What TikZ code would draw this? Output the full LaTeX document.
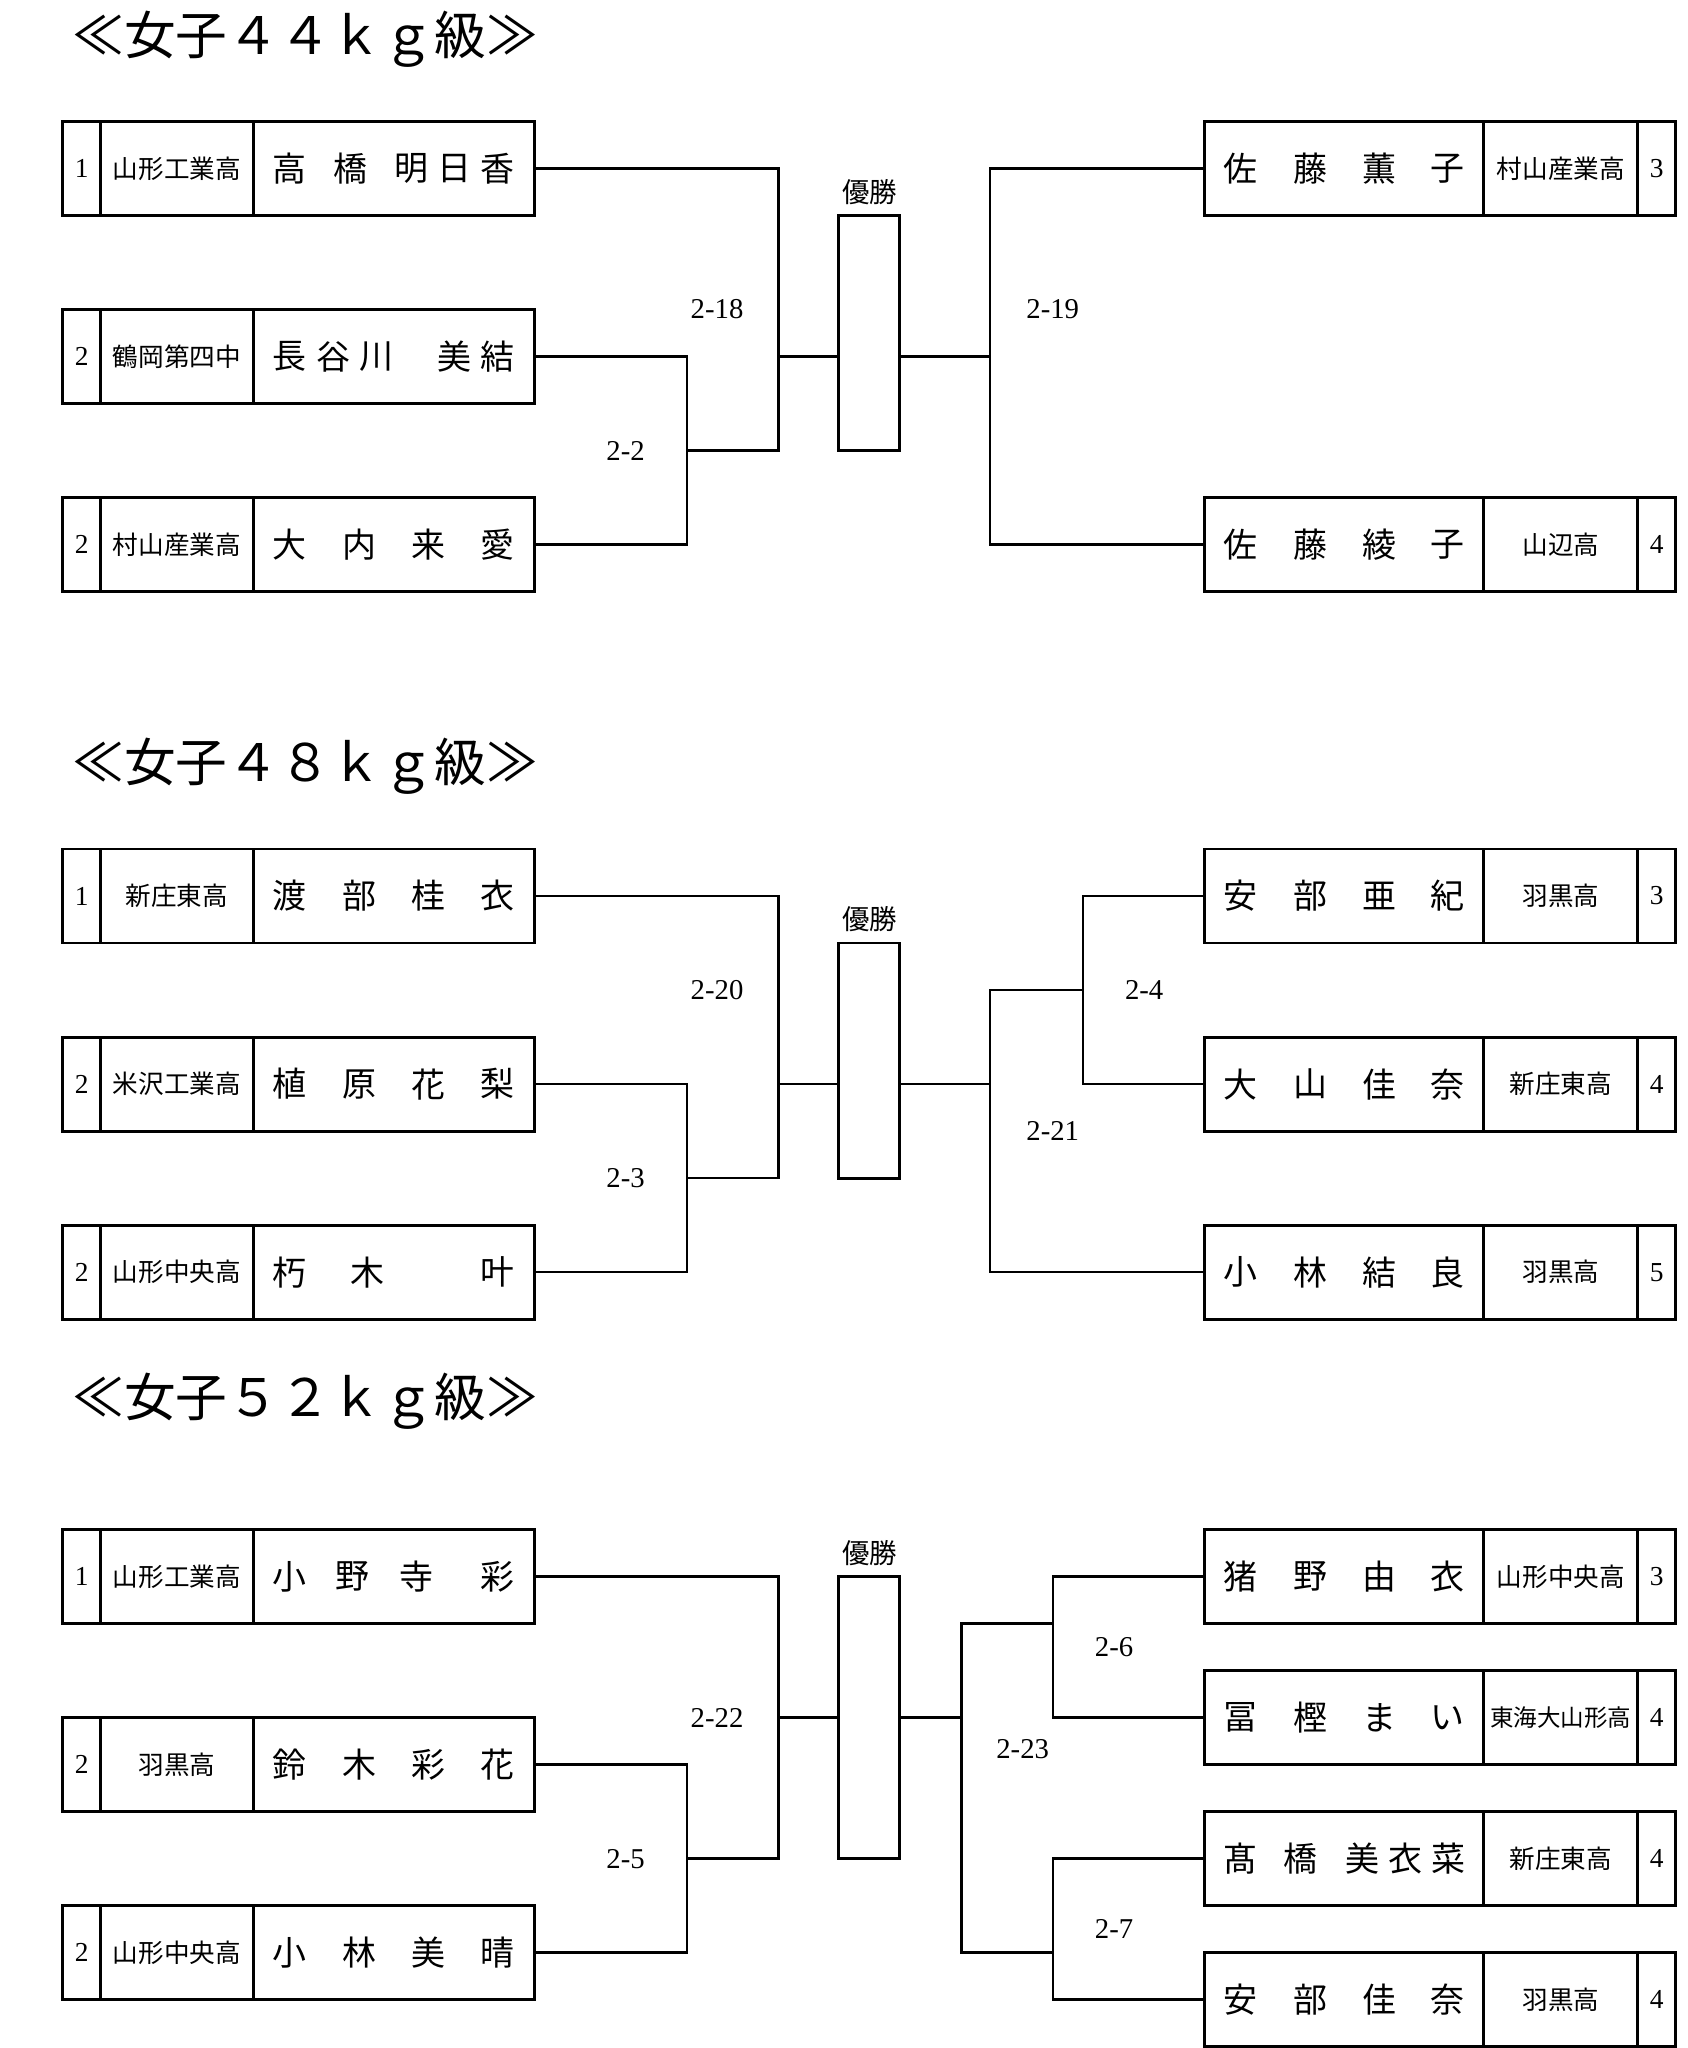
\documentclass[tikz,border=0pt]{standalone}
\usepackage{fontspec}
\setmainfont{Liberation Serif}
\newfontfamily\jp{Noto Sans CJK JP}
\tikzset{
  cell/.style={draw, line width=1.1pt, rectangle, inner sep=0pt, minimum height=36pt},
  numtxt/.style={font=\fontsize{10.5pt}{10.5pt}\selectfont},
  schtxt/.style={font=\jp\fontsize{9.8pt}{10pt}\selectfont},
  namech/.style={inner sep=0pt, font=\jp\fontsize{13pt}{13pt}\selectfont},
  ttl/.style={inner sep=0pt, anchor=west, font=\jp\fontsize{19.8pt}{20pt}\selectfont},
  mlabel/.style={inner sep=0pt, font=\fontsize{11pt}{11pt}\selectfont},
  clabel/.style={inner sep=0pt, font=\jp\fontsize{10.5pt}{11pt}\selectfont},
  champ/.style={draw, line width=1.1pt, rectangle, inner sep=0pt, minimum width=23.5pt},
  conn/.style={draw, line width=0.95pt},
}
% left entry: id, y, number, school, chars
\newcommand\plL[5]{%
  \node[cell, numtxt, minimum width=14.5pt] (#1num) at (62.5,#2) {#3};
  \node[cell, schtxt, minimum width=58.5pt] (#1sch) at (135.5,#2) {#4};
  \node[cell, minimum width=107.5pt] (#1nm) at (301.5,#2) {};
  \foreach \cx/\zch [count=\k] in {#5} \node[namech] (#1c\k) at (\cx,#2) {\zch};
}
% right entry
\newcommand\plR[5]{%
  \node[cell, minimum width=107pt] (#1nm) at (1029,#2) {};
  \node[cell, schtxt, minimum width=59pt] (#1sch) at (1195,#2) {#4};
  \node[cell, numtxt, minimum width=14.5pt] (#1num) at (1268.5,#2) {#3};
  \foreach \cx/\zch [count=\k] in {#5} \node[namech] (#1c\k) at (\cx,#2) {\zch};
}
\begin{document}
\begin{tikzpicture}[x=0.5pt, y=-0.5pt]
\useasboundingbox (0,0) rectangle (1292,1568);
\fill[white] (0,0) rectangle (1292,1568);

% ===== Section 1 =====
\node[ttl] (t1) at (55,30) {≪女子４４ｋｇ級≫};
\plL{a1}{129}{1}{山形工業高}{222/高,268/橋,315/明,348/日,381/香}
\plL{a2}{273}{2}{鶴岡第四中}{222/長,255/谷,288/川,348/美,381/結}
\plL{a3}{417}{2}{村山産業高}{222/大,275/内,328/来,381/愛}
\plR{a4}{129}{3}{村山産業高}{950/佐,1003/藤,1056/薫,1108/子}
\plR{a5}{417}{4}{山辺高}{950/佐,1003/藤,1056/綾,1108/子}
\node[champ, minimum height=90pt] (aW) at (665.5,255) {};
\node[clabel] (aWl) at (666,147) {優勝};
\coordinate (aT) at (596,345);
\coordinate (aB) at (526,345);
\coordinate (aA) at (596,273);
\coordinate (aR) at (758,273);
\draw[conn] (a1nm.east) -| (aT) -- (aB);
\draw[conn] (a2nm.east) -| (aB) |- (a3nm.east);
\draw[conn] (aA) -- (aW.west |- aA);
\draw[conn] (aW.east |- aR) -- (aR);
\draw[conn] (a4nm.west) -| (aR) |- (a5nm.west);
\node[mlabel] (am1) at (549,237) {2-18};
\node[mlabel] (am2) at (479,345) {2-2};
\node[mlabel] (am3) at (806,237) {2-19};

% ===== Section 2 =====
\node[ttl] (t2) at (55,587) {≪女子４８ｋｇ級≫};
\plL{b1}{686}{1}{新庄東高}{222/渡,275/部,328/桂,381/衣}
\plL{b2}{830}{2}{米沢工業高}{222/植,275/原,328/花,381/梨}
\plL{b3}{974}{2}{山形中央高}{222/朽,281/木,381/叶}
\plR{b4}{686}{3}{羽黒高}{950/安,1003/部,1056/亜,1108/紀}
\plR{b5}{830}{4}{新庄東高}{950/大,1003/山,1056/佳,1108/奈}
\plR{b6}{974}{5}{羽黒高}{950/小,1003/林,1056/結,1108/良}
\node[champ, minimum height=90pt] (bW) at (665.5,812) {};
\node[clabel] (bWl) at (666,704) {優勝};
\coordinate (bT) at (596,902);
\coordinate (bB) at (526,902);
\coordinate (bA) at (596,830);
\coordinate (bJ) at (758,830);
\coordinate (bQ) at (829,758);
\draw[conn] (b1nm.east) -| (bT) -- (bB);
\draw[conn] (b2nm.east) -| (bB) |- (b3nm.east);
\draw[conn] (bA) -- (bW.west |- bA);
\draw[conn] (bW.east |- bJ) -- (bJ);
\draw[conn] (bQ) -| (bJ) |- (b6nm.west);
\draw[conn] (b4nm.west) -| (bQ) |- (b5nm.west);
\node[mlabel] (bm1) at (549,758) {2-20};
\node[mlabel] (bm2) at (479,902) {2-3};
\node[mlabel] (bm3) at (876,758) {2-4};
\node[mlabel] (bm4) at (806,866) {2-21};

% ===== Section 3 =====
\node[ttl] (t3) at (55,1073) {≪女子５２ｋｇ級≫};
\plL{c1}{1207}{1}{山形工業高}{222/小,270/野,319/寺,381/彩}
\plL{c2}{1351}{2}{羽黒高}{222/鈴,275/木,328/彩,381/花}
\plL{c3}{1495}{2}{山形中央高}{222/小,275/林,328/美,381/晴}
\plR{c4}{1207}{3}{山形中央高}{950/猪,1003/野,1056/由,1108/衣}
\plR{c5}{1315}{4}{{\fontsize{9pt}{9pt}\selectfont 東海大山形高}}{950/冨,1003/樫,1056/ま,1108/い}
\plR{c6}{1423}{4}{新庄東高}{950/髙,996/橋,1043/美,1076/衣,1109/菜}
\plR{c7}{1531}{4}{羽黒高}{950/安,1003/部,1056/佳,1108/奈}
\node[champ, minimum height=108pt] (cW) at (665.5,1315) {};
\node[clabel] (cWl) at (666,1189) {優勝};
\coordinate (cT) at (596,1423);
\coordinate (cB) at (526,1423);
\coordinate (cA) at (596,1315);
\coordinate (cJ) at (736,1315);
\coordinate (cQa) at (806,1243);
\coordinate (cQb) at (806,1495);
\draw[conn] (c1nm.east) -| (cT) -- (cB);
\draw[conn] (c2nm.east) -| (cB) |- (c3nm.east);
\draw[conn] (cA) -- (cW.west |- cA);
\draw[conn] (cW.east |- cJ) -- (cJ);
\draw[conn] (cQa) -| (cJ) |- (cQb);
\draw[conn] (c4nm.west) -| (cQa) |- (c5nm.west);
\draw[conn] (c6nm.west) -| (cQb) |- (c7nm.west);
\node[mlabel] (cm1) at (549,1315) {2-22};
\node[mlabel] (cm2) at (479,1423) {2-5};
\node[mlabel] (cm3) at (853,1261) {2-6};
\node[mlabel] (cm4) at (853,1477) {2-7};
\node[mlabel] (cm5) at (783,1339) {2-23};
\end{tikzpicture}
\end{document}
